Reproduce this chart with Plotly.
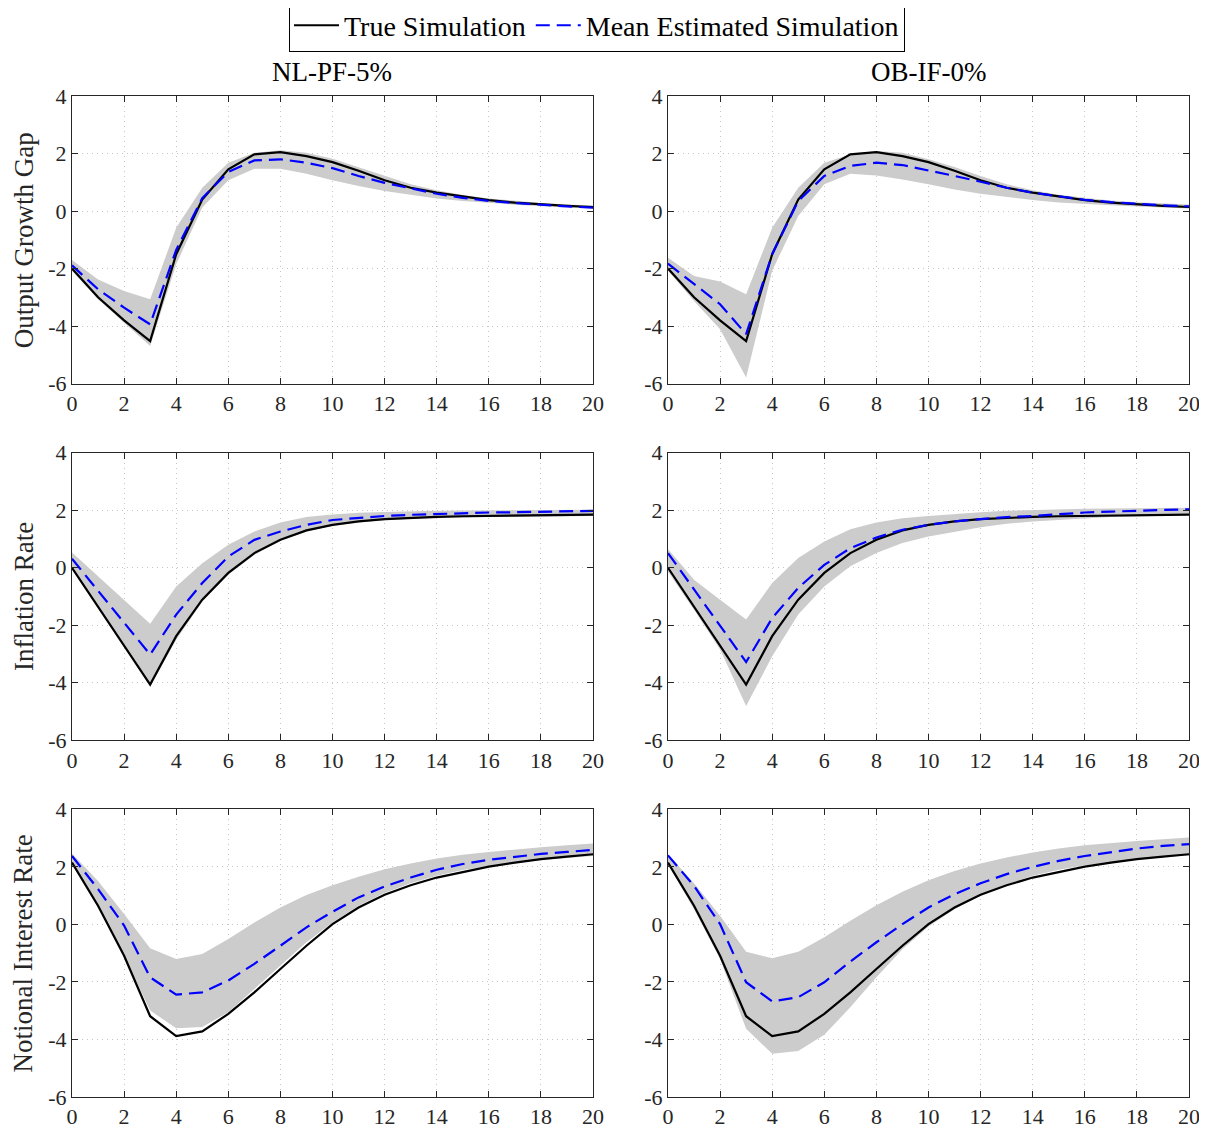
import plotly.graph_objects as go
from plotly.subplots import make_subplots

# horizon (quarters)
periods = list(range(21))
x_ticks = list(range(0, 21, 2))
y_ticks = [-6, -4, -2, 0, 2, 4]
y_tick_labels = ["-6", "-4", "-2", "0", "2", "4"]

# true simulation (same in both columns)
true_output = [-2.0, -3.0, -3.8, -4.52, -1.5, 0.4, 1.45, 1.97, 2.05, 1.91, 1.7,
               1.4, 1.07, 0.81, 0.64, 0.5, 0.38, 0.29, 0.23, 0.18, 0.14]
true_inflation = [0.0, -1.35, -2.7, -4.06, -2.38, -1.11, -0.18, 0.51, 0.97, 1.3, 1.49,
                  1.61, 1.69, 1.74, 1.77, 1.79, 1.8, 1.82, 1.83, 1.84, 1.85]
true_interest = [2.15, 0.65, -1.09, -3.19, -3.88, -3.72, -3.11, -2.36, -1.55, -0.74, 0.01,
                 0.59, 1.03, 1.36, 1.63, 1.83, 2.01, 2.15, 2.27, 2.36, 2.44]

# NL-PF-5%
nl_output_mean = [-1.89, -2.72, -3.36, -3.94, -1.35, 0.45, 1.36, 1.76, 1.8, 1.68, 1.49,
                  1.22, 0.98, 0.78, 0.6, 0.46, 0.35, 0.28, 0.21, 0.16, 0.12]
nl_output_hi = [-1.7, -2.38, -2.78, -3.07, -0.58, 0.81, 1.68, 2.03, 2.11, 2.03, 1.82,
                1.53, 1.22, 0.93, 0.72, 0.56, 0.44, 0.35, 0.28, 0.23, 0.19]
nl_output_lo = [-2.08, -3.07, -3.88, -4.69, -1.85, 0.12, 1.07, 1.47, 1.47, 1.3, 1.07,
                0.87, 0.7, 0.56, 0.44, 0.35, 0.28, 0.22, 0.17, 0.14, 0.09]
nl_inflation_mean = [0.31, -0.79, -1.9, -3.02, -1.63, -0.53, 0.39, 0.97, 1.26, 1.49, 1.66,
                     1.74, 1.8, 1.84, 1.87, 1.9, 1.92, 1.93, 1.94, 1.95, 1.98]
nl_inflation_hi = [0.53, -0.3, -1.1, -1.95, -0.65, 0.16, 0.8, 1.26, 1.57, 1.76, 1.85,
                   1.91, 1.94, 1.97, 1.98, 1.99, 2.0, 2.0, 2.01, 2.01, 2.02]
nl_inflation_lo = [-0.07, -1.4, -2.75, -4.12, -2.5, -1.17, -0.24, 0.45, 0.94, 1.26, 1.46,
                   1.57, 1.65, 1.7, 1.73, 1.75, 1.76, 1.77, 1.78, 1.79, 1.8]
nl_interest_mean = [2.38, 1.23, -0.04, -1.84, -2.44, -2.36, -1.95, -1.37, -0.74, -0.1, 0.44,
                    0.94, 1.32, 1.63, 1.9, 2.1, 2.25, 2.36, 2.45, 2.52, 2.59]
nl_interest_hi = [2.47, 1.51, 0.36, -0.83, -1.2, -1.03, -0.51, 0.07, 0.59, 1.02, 1.36,
                  1.66, 1.92, 2.12, 2.29, 2.42, 2.52, 2.61, 2.68, 2.75, 2.81]
nl_interest_lo = [2.09, 0.59, -1.09, -2.99, -3.61, -3.57, -3.05, -2.24, -1.43, -0.62, 0.07,
                  0.65, 1.09, 1.43, 1.69, 1.89, 2.03, 2.15, 2.24, 2.31, 2.38]

# OB-IF-0%
ob_output_mean = [-1.83, -2.55, -3.24, -4.28, -1.5, 0.35, 1.22, 1.57, 1.68, 1.6, 1.42,
                  1.22, 1.02, 0.81, 0.64, 0.51, 0.39, 0.31, 0.25, 0.2, 0.16]
ob_output_hi = [-1.62, -2.26, -2.45, -2.89, -0.58, 0.81, 1.68, 1.97, 2.09, 2.03, 1.8,
                1.53, 1.22, 0.93, 0.72, 0.57, 0.46, 0.37, 0.31, 0.27, 0.23]
ob_output_lo = [-2.08, -3.13, -4.11, -5.79, -2.08, -0.17, 0.93, 1.3, 1.24, 1.1, 0.93,
                0.75, 0.6, 0.49, 0.38, 0.3, 0.24, 0.2, 0.16, 0.13, 0.09]
ob_inflation_mean = [0.51, -0.75, -2.0, -3.28, -1.75, -0.7, 0.1, 0.68, 1.05, 1.32, 1.49,
                     1.61, 1.69, 1.76, 1.8, 1.86, 1.92, 1.95, 1.99, 2.01, 2.03]
ob_inflation_hi = [0.65, -0.42, -1.11, -1.8, -0.53, 0.34, 0.91, 1.34, 1.57, 1.72, 1.8,
                   1.87, 1.93, 1.98, 2.01, 2.03, 2.05, 2.06, 2.07, 2.08, 2.09]
ob_inflation_lo = [-0.13, -1.46, -2.84, -4.81, -3.08, -1.63, -0.65, 0.05, 0.51, 0.86, 1.09,
                   1.26, 1.41, 1.53, 1.61, 1.66, 1.72, 1.76, 1.78, 1.8, 1.83]
ob_interest_mean = [2.4, 1.34, 0.01, -2.01, -2.68, -2.53, -2.01, -1.29, -0.62, 0.01, 0.59,
                    1.05, 1.43, 1.75, 2.0, 2.21, 2.38, 2.52, 2.64, 2.73, 2.79]
ob_interest_hi = [2.44, 1.43, 0.3, -0.95, -1.18, -0.95, -0.45, 0.13, 0.67, 1.14, 1.54,
                  1.86, 2.12, 2.33, 2.5, 2.64, 2.75, 2.83, 2.9, 2.96, 3.02]
ob_interest_lo = [2.09, 0.53, -1.2, -3.63, -4.5, -4.4, -3.84, -2.88, -1.84, -0.86, -0.07,
                  0.53, 1.02, 1.4, 1.69, 1.9, 2.06, 2.17, 2.27, 2.35, 2.4]

col_titles = ["NL-PF-5%", "OB-IF-0%"]
row_titles = ["Output Growth Gap", "Inflation Rate", "Notional Interest Rate"]

panels = [
    [(true_output, nl_output_mean, nl_output_lo, nl_output_hi),
     (true_output, ob_output_mean, ob_output_lo, ob_output_hi)],
    [(true_inflation, nl_inflation_mean, nl_inflation_lo, nl_inflation_hi),
     (true_inflation, ob_inflation_mean, ob_inflation_lo, ob_inflation_hi)],
    [(true_interest, nl_interest_mean, nl_interest_lo, nl_interest_hi),
     (true_interest, ob_interest_mean, ob_interest_lo, ob_interest_hi)],
]

FONT = "Liberation Serif"
AXIS_COLOR = "#262626"

fig = make_subplots(rows=3, cols=2, horizontal_spacing=0.0671, vertical_spacing=0.069)

for r, row in enumerate(panels, start=1):
    for c, (true_vals, mean_vals, lo_vals, hi_vals) in enumerate(row, start=1):
        first = r == 1 and c == 1
        # shaded band: upper edge, then lower edge filled up to it
        fig.add_trace(
            go.Scatter(x=periods, y=hi_vals, mode="lines", line=dict(width=0),
                       showlegend=False, hoverinfo="skip"),
            row=r, col=c,
        )
        fig.add_trace(
            go.Scatter(x=periods, y=lo_vals, mode="lines", line=dict(width=0),
                       fill="tonexty", fillcolor="#cccccc",
                       showlegend=False, hoverinfo="skip"),
            row=r, col=c,
        )
        fig.add_trace(
            go.Scatter(x=periods, y=true_vals, mode="lines", name="True Simulation",
                       line=dict(color="black", width=2.2), showlegend=first,
                       legendgroup="true"),
            row=r, col=c,
        )
        fig.add_trace(
            go.Scatter(x=periods, y=mean_vals, mode="lines",
                       name="Mean Estimated Simulation",
                       line=dict(color="blue", width=2.2, dash="14px,7px"),
                       showlegend=first, legendgroup="mean"),
            row=r, col=c,
        )

fig.update_xaxes(
    range=[0, 20], tickvals=x_ticks, ticktext=[str(v) for v in x_ticks],
    showline=True, linecolor=AXIS_COLOR, linewidth=1, mirror="ticks",
    ticks="inside", ticklen=6, tickcolor=AXIS_COLOR,
    showgrid=True, gridcolor="#c4c4c4", griddash="1px,4px", gridwidth=1,
    zeroline=False,
    tickfont=dict(family=FONT, size=22, color=AXIS_COLOR),
)
fig.update_yaxes(
    range=[-6, 4], tickvals=y_ticks, ticktext=y_tick_labels,
    showline=True, linecolor=AXIS_COLOR, linewidth=1, mirror="ticks",
    ticks="inside", ticklen=6, tickcolor=AXIS_COLOR,
    showgrid=True, gridcolor="#c4c4c4", griddash="1px,4px", gridwidth=1,
    zeroline=False,
    tickfont=dict(family=FONT, size=22, color=AXIS_COLOR),
)

annotations = []
for c, title in enumerate(col_titles):
    annotations.append(dict(
        text=title, xref="paper", yref="paper",
        x=0.2332 if c == 0 else 0.7668, y=1.024,
        xanchor="center", yanchor="middle", showarrow=False,
        font=dict(family=FONT, size=27, color="black"),
    ))
for r, title in enumerate(row_titles, start=1):
    yref = "y domain" if r == 1 else f"y{2 * r - 1} domain"
    annotations.append(dict(
        text=title, xref="paper", yref=yref,
        x=-0.0435, y=0.5, textangle=-90,
        xanchor="center", yanchor="middle", showarrow=False,
        font=dict(family=FONT, size=27, color=AXIS_COLOR),
    ))

# page body has an 8px margin, so the figure is 8px smaller and the
# left/top margins are 8px smaller too
fig.update_layout(
    width=1199, height=1121,
    margin=dict(l=64, r=18, t=88, b=32, autoexpand=False),
    paper_bgcolor="white", plot_bgcolor="white",
    font=dict(family=FONT, color="black"),
    annotations=annotations,
    showlegend=True,
    legend=dict(
        orientation="h", x=0.47, y=1.0704, xanchor="center", yanchor="middle",
        bordercolor="black", borderwidth=1, bgcolor="white",
        font=dict(family=FONT, size=28, color="black"),
        itemwidth=45, tracegroupgap=0,
    ),
)

fig.write_html("out.html")
